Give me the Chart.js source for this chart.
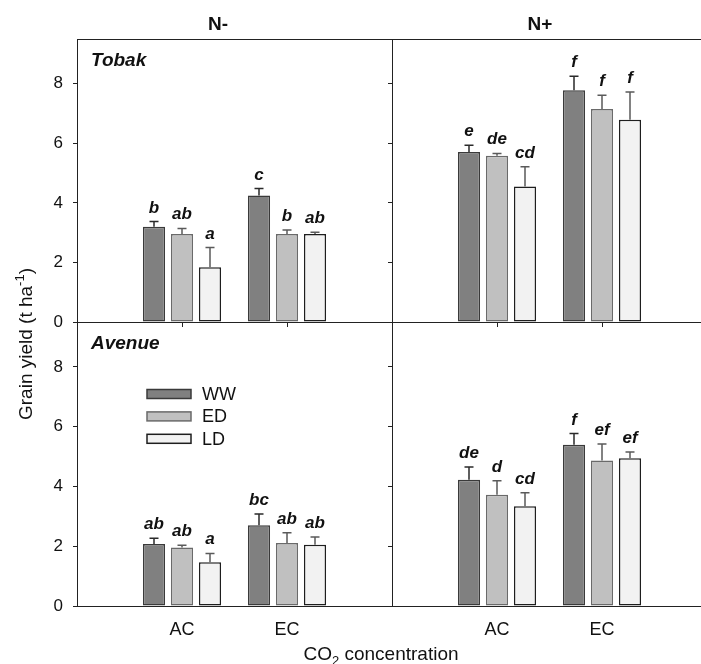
<!DOCTYPE html>
<html>
<head>
<meta charset="utf-8">
<script src="https://cdn.jsdelivr.net/npm/chart.js@4.4.1/dist/chart.umd.min.js"></script>
<style>
  html, body { margin: 0; padding: 0; background: #fff; overflow: hidden; }
  #wrap { position: relative; width: 701px; height: 664px; overflow: hidden; }
  #wrap canvas { position: absolute; left: 0; top: 0; }
</style>
</head>
<body>
<div id="wrap">
  <canvas id="tl" width="740" height="664"></canvas>
  <canvas id="tr" width="740" height="664"></canvas>
  <canvas id="bl" width="740" height="664"></canvas>
  <canvas id="br" width="740" height="664"></canvas>
</div>
<script>
// Categories and treatments
const categories = ['AC', 'EC'];
const treatments = ['WW', 'ED', 'LD'];
const yTicks = [0, 2, 4, 6, 8];

// Tobak, N- (one row per treatment: AC, EC)
const tobakLowMean = [[3.20, 4.25], [2.95, 2.95], [1.84, 2.95]];
const tobakLowErr = [[0.17, 0.23], [0.19, 0.14], [0.66, 0.06]];
const tobakLowLetters = [['b', 'c'], ['ab', 'b'], ['a', 'ab']];

// Tobak, N+
const tobakHighMean = [[5.71, 7.78], [5.58, 7.15], [4.55, 6.79]];
const tobakHighErr = [[0.22, 0.47], [0.08, 0.46], [0.66, 0.93]];
const tobakHighLetters = [['e', 'f'], ['de', 'f'], ['cd', 'f']];

// Avenue, N-
const avenueLowMean = [[2.07, 2.70], [1.96, 2.11], [1.46, 2.05]];
const avenueLowErr = [[0.20, 0.38], [0.07, 0.34], [0.30, 0.26]];
const avenueLowLetters = [['ab', 'bc'], ['ab', 'ab'], ['a', 'ab']];

// Avenue, N+
const avenueHighMean = [[4.22, 5.39], [3.72, 4.87], [3.34, 4.94]];
const avenueHighErr = [[0.43, 0.38], [0.47, 0.55], [0.45, 0.21]];
const avenueHighLetters = [['de', 'f'], ['d', 'ef'], ['cd', 'ef']];

// Styles
const FAMILY = "'Liberation Sans', Arial, sans-serif";
const fills = ['#808080', '#c0c0c0', '#f2f2f2'];
const borders = ['#3a3a3a', '#6a6a6a', '#1e1e1e'];
const errColors = ['#2a2a2a', '#5a5a5a', '#5a5a5a'];
const LINE = '#222';

// canvas is wider than the page so the right panel can run past the edge
const CW = 740, CH = 664;
const YW = 40, XH = 40;

// empty slot at both ends so AC / EC sit at 1/3 and 2/3 of the panel
const xLabels = [''].concat(categories, ['']);

const px = (v) => Math.round(v) + 0.5;

// Texts shared by the whole figure
const figureTexts = {
  id: 'figureTexts',
  afterDraw(chart) {
    const ctx = chart.ctx;
    ctx.save();
    ctx.fillStyle = '#111';
    ctx.textBaseline = 'alphabetic';

    ctx.font = 'bold 19px ' + FAMILY;
    ctx.textAlign = 'center';
    ctx.fillText('N-', 218, 30);
    ctx.fillText('N+', 540, 30);

    // y title, rotated
    ctx.save();
    ctx.translate(32, 344);
    ctx.rotate(-Math.PI / 2);
    ctx.textAlign = 'left';
    ctx.font = '19px ' + FAMILY;
    const w1 = ctx.measureText('Grain yield (t ha').width;
    const w3 = ctx.measureText(')').width;
    ctx.font = '13px ' + FAMILY;
    const w2 = ctx.measureText('-1').width;
    let x = -(w1 + w2 + w3) / 2;
    ctx.font = '19px ' + FAMILY;
    ctx.fillText('Grain yield (t ha', x, 0);
    x += w1;
    ctx.font = '13px ' + FAMILY;
    ctx.fillText('-1', x, -8);
    x += w2;
    ctx.font = '19px ' + FAMILY;
    ctx.fillText(')', x, 0);
    ctx.restore();

    // x title with subscript
    ctx.textAlign = 'left';
    ctx.font = '19px ' + FAMILY;
    const a = ctx.measureText('CO').width;
    const c = ctx.measureText(' concentration').width;
    ctx.font = '13px ' + FAMILY;
    const b = ctx.measureText('2').width;
    let xx = 381 - (a + b + c) / 2;
    ctx.font = '19px ' + FAMILY;
    ctx.fillText('CO', xx, 660);
    xx += a;
    ctx.font = '13px ' + FAMILY;
    ctx.fillText('2', xx, 665);
    xx += b;
    ctx.font = '19px ' + FAMILY;
    ctx.fillText(' concentration', xx, 660);
    ctx.restore();
  },
};

function makePanel(id, area, name, mean, err, letters, cfg) {
  const datasets = treatments.map((t, i) => ({
    label: t,
    data: [null, mean[i][0], mean[i][1], null],
    backgroundColor: fills[i],
    borderColor: borders[i],
    borderWidth: 1.5,
    borderSkipped: false,
    categoryPercentage: 0.8,
    barPercentage: 0.79,
  }));

  // box, error bars, letters, panel name, legend
  const deco = {
    id: 'deco',
    afterDatasetsDraw(chart) {
      const ctx = chart.ctx;
      const y = chart.scales.y;
      const a = chart.chartArea;
      ctx.save();

      chart.data.datasets.forEach((ds, i) => {
        const meta = chart.getDatasetMeta(i);
        meta.data.forEach((bar, j) => {
          const v = ds.data[j];
          if (v == null) return;
          const k = j - 1;
          const yTop = y.getPixelForValue(v + err[i][k]);
          ctx.strokeStyle = errColors[i];
          ctx.lineWidth = 1.5;
          ctx.beginPath();
          ctx.moveTo(bar.x, bar.y);
          ctx.lineTo(bar.x, yTop);
          ctx.moveTo(bar.x - 4.5, yTop);
          ctx.lineTo(bar.x + 4.5, yTop);
          ctx.stroke();

          ctx.fillStyle = '#111';
          ctx.font = 'italic bold 17px ' + FAMILY;
          ctx.textAlign = 'center';
          ctx.textBaseline = 'alphabetic';
          ctx.fillText(letters[i][k], bar.x, yTop - 9);
        });
      });

      // frame
      ctx.strokeStyle = LINE;
      ctx.lineWidth = 1;
      ctx.strokeRect(px(a.left), px(a.top), Math.round(a.right - a.left), Math.round(a.bottom - a.top));

      // panel name
      ctx.fillStyle = '#111';
      ctx.font = 'italic bold 19px ' + FAMILY;
      ctx.textAlign = 'left';
      ctx.textBaseline = 'alphabetic';
      ctx.fillText(name, a.left + 14, a.top + 27);

      if (cfg.legend) {
        treatments.forEach((t, i) => {
          const cy = a.top + 72 + i * 22.4;
          ctx.fillStyle = fills[i];
          ctx.fillRect(a.left + 70, cy - 4.5, 44, 9);
          ctx.strokeStyle = borders[i];
          ctx.lineWidth = 1.5;
          ctx.strokeRect(a.left + 70, cy - 4.5, 44, 9);
          ctx.fillStyle = '#111';
          ctx.font = '18px ' + FAMILY;
          ctx.textBaseline = 'middle';
          ctx.fillText(t, a.left + 125, cy + 1);
        });
      }
      ctx.restore();
    },
  };

  const plugins = [deco];
  if (cfg.figure) plugins.push(figureTexts);

  return new Chart(document.getElementById(id), {
    type: 'bar',
    data: { labels: xLabels, datasets },
    options: {
      responsive: false,
      animation: false,
      events: [],
      layout: {
        padding: {
          left: area.left - YW,
          top: area.top,
          right: CW - area.right,
          bottom: CH - area.bottom - XH,
        },
      },
      plugins: { legend: { display: false }, tooltip: { enabled: false } },
      scales: {
        x: {
          offset: false,
          grid: { offset: false, drawOnChartArea: false, drawTicks: cfg.xTicks, tickLength: 5, color: LINE },
          border: { display: true, color: LINE, width: 1 },
          ticks: {
            display: cfg.xLabels,
            autoSkip: false,
            maxRotation: 0,
            padding: 13,
            color: '#111',
            font: { family: FAMILY, size: 18 },
          },
          afterFit: (s) => { s.height = XH; },
        },
        y: {
          min: 0,
          max: 9.5,
          afterBuildTicks: (s) => { s.ticks = yTicks.map((v) => ({ value: v })); },
          grid: { drawOnChartArea: false, drawTicks: true, tickLength: 4, color: LINE },
          border: { display: true, color: LINE, width: 1 },
          ticks: {
            display: cfg.yLabels,
            padding: 10,
            color: '#111',
            font: { family: FAMILY, size: 17 },
          },
          afterFit: (s) => { s.width = YW; },
        },
      },
    },
    plugins,
  });
}

makePanel('tl', { left: 77, top: 39, right: 392, bottom: 322 }, 'Tobak',
  tobakLowMean, tobakLowErr, tobakLowLetters, { yLabels: true, xLabels: false, xTicks: true, figure: true });
makePanel('tr', { left: 392, top: 39, right: 707, bottom: 322 }, '',
  tobakHighMean, tobakHighErr, tobakHighLetters, { yLabels: false, xLabels: false, xTicks: true });
makePanel('bl', { left: 77, top: 322, right: 392, bottom: 606 }, 'Avenue',
  avenueLowMean, avenueLowErr, avenueLowLetters, { yLabels: true, xLabels: true, xTicks: false, legend: true });
makePanel('br', { left: 392, top: 322, right: 707, bottom: 606 }, '',
  avenueHighMean, avenueHighErr, avenueHighLetters, { yLabels: false, xLabels: true, xTicks: false });
</script>
</body>
</html>
